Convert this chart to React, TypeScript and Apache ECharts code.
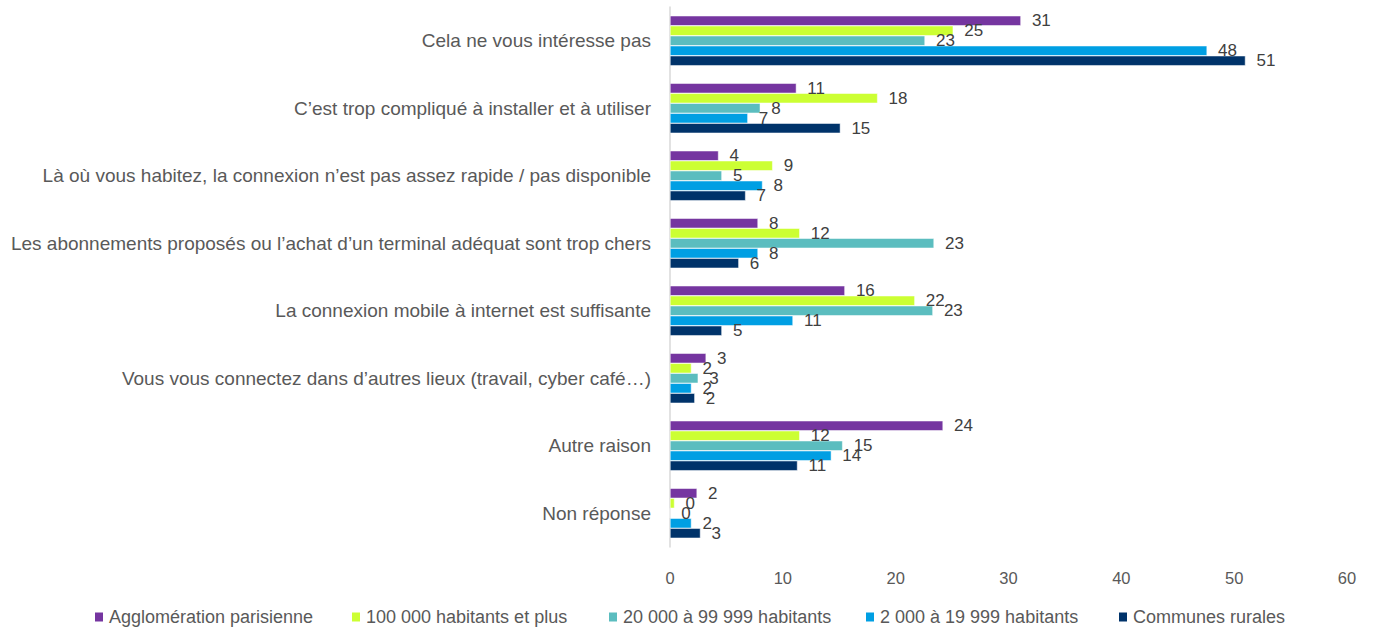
import React, { useEffect, useRef } from "react";
import * as echarts from "echarts";

const categories = [
  "Cela ne vous intéresse pas",
  "C’est trop compliqué à installer et à utiliser",
  "Là où vous habitez, la connexion n’est pas assez rapide / pas disponible",
  "Les abonnements proposés ou l’achat d’un terminal adéquat sont trop chers",
  "La connexion mobile à internet est suffisante",
  "Vous vous connectez dans d’autres lieux (travail, cyber café…)",
  "Autre raison",
  "Non réponse",
];

const seriesNames = [
  "Agglomération parisienne",
  "100 000 habitants et plus",
  "20 000 à 99 999 habitants",
  "2 000 à 19 999 habitants",
  "Communes rurales",
];

const agglomeration = [31.1, 11.2, 4.3, 7.8, 15.5, 3.2, 24.2, 2.4];
const plus100k = [25.1, 18.4, 9.1, 11.5, 21.7, 1.9, 11.5, 0.4];
const from20k = [22.6, 8.0, 4.6, 23.4, 23.3, 2.5, 15.3, 0];
const from2k = [47.6, 6.9, 8.2, 7.8, 10.9, 1.9, 14.3, 1.9];
const rurales = [51.0, 15.1, 6.7, 6.1, 4.6, 2.2, 11.3, 2.7];

const xTicks = [0, 10, 20, 30, 40, 50, 60];

const colors = ["#7535A0", "#CCFF33", "#5BBDBF", "#009FE3", "#00336A"];

export default function App() {
  const ref = useRef<HTMLDivElement>(null);
  useEffect(() => {
    if (!ref.current) return;
    const chart = echarts.init(ref.current, null, { renderer: "svg" });
    const values = [agglomeration, plus100k, from20k, from2k, rurales];
    const font = "'Liberation Sans', Arial, sans-serif";
    const legendLefts = [93, 350, 607, 864, 1117];
    chart.setOption({
      animation: false,
      textStyle: { fontFamily: font },
      grid: { left: 670, right: 27, top: 7, height: 540, containLabel: false },
      legend: seriesNames.map((name, i) => ({
        left: legendLefts[i],
        top: 608,
        padding: 0,
        itemWidth: 10,
        itemHeight: 11,
        itemGap: 0,
        icon: "rect",
        data: [name],
        textStyle: {
          fontFamily: font,
          fontSize: 18,
          color: "#595959",
        },
      })),
      xAxis: {
        type: "value",
        min: xTicks[0],
        max: xTicks[xTicks.length - 1],
        interval: 10,
        axisLine: { show: false },
        axisTick: { show: false },
        splitLine: { show: false },
        axisLabel: { fontSize: 16.5, color: "#595959", margin: 22, fontFamily: font },
      },
      yAxis: {
        type: "category",
        data: categories,
        inverse: true,
        axisLine: { show: true, lineStyle: { color: "#D9D9D9", width: 1.5 } },
        axisTick: { show: false },
        axisLabel: { fontSize: 19, color: "#595959", margin: 19, fontFamily: font },
      },
      series: seriesNames.map((name, i) => ({
        name,
        type: "bar",
        data: values[i],
        barGap: "0%",
        barCategoryGap: "26%",
        itemStyle: { color: colors[i], borderColor: "#FFFFFF", borderWidth: 0.5 },
        label: {
          show: true,
          position: "right",
          distance: 11,
          fontSize: 17,
          color: "#404040",
          fontFamily: font,
          formatter: (p: any) => String(Math.round(p.value)),
        },
      })),
    });
    return () => chart.dispose();
  }, []);
  return (
    <div
      ref={ref}
      style={{ position: "absolute", left: 0, top: 0, width: 1374, height: 631 }}
    />
  );
}
